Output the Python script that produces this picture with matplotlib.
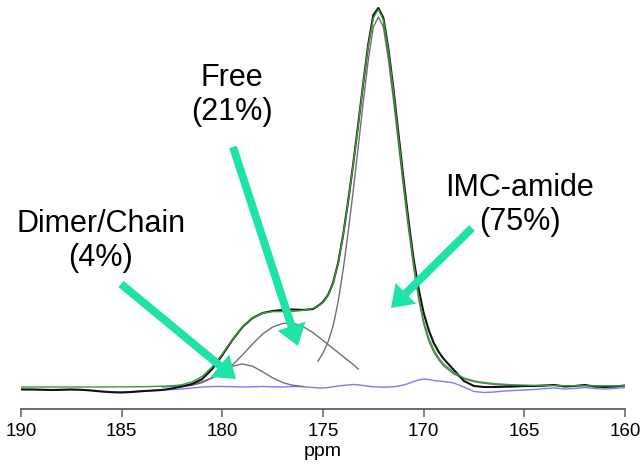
import matplotlib
matplotlib.use("Agg")
import matplotlib.pyplot as plt
from matplotlib.patches import FancyArrowPatch

plt.rcParams['font.family'] = ['Liberation Sans', 'DejaVu Sans']

# ---------------- data (intensity in arbitrary units) ----------------
ppm = [190.0, 189.5, 189.0, 188.5, 188.0, 187.5, 187.0, 186.5, 186.0, 185.5,
       185.0, 184.5, 184.0, 183.5, 183.0, 182.5, 182.0, 181.5, 181.0, 180.5,
       180.0, 179.5, 179.0, 178.5, 178.0, 177.5, 177.0, 176.5, 176.0, 175.5,
       175.25, 175.0, 174.75, 174.5, 174.25, 174.0, 173.75, 173.5, 173.25, 173.0,
       172.75, 172.5, 172.25, 172.0, 171.75, 171.5, 171.25, 171.0, 170.75, 170.5,
       170.25, 170.0, 169.75, 169.5, 169.25,
       169.0, 168.5, 168.0, 167.5, 167.0, 166.5, 166.0, 165.5, 165.0, 164.5,
       164.0, 163.5, 163.0, 162.5, 162.0, 161.5, 161.0, 160.5, 160.0]

experimental = [-0.5, -0.5, -0.7, -1.0, -0.8, -0.5, -0.8, -1.5, -2.5, -3.2,
                -3.5, -3.0, -2.2, -1.6, -1.0, 0.5, 2.5, 5.0, 10.0, 20.0,
                34.0, 49.0, 62.0, 71.0, 76.0, 78.0, 79.0, 79.5, 79.0, 80.0,
                83, 87, 94, 106, 126, 154, 188, 225, 265, 306,
                345, 374, 381, 371, 340, 300, 255, 210, 168, 130,
                100, 76, 59, 46, 37,
                30, 19, 8, 3, 2, 2, 2.3, 2.5, 3, 3,
                3.5, 4, 2.5, 3, 4, 2.5, 2, 2.5, 3.5]

fit_sum = [2.0, 2.0, 2.0, 2.0, 2.0, 2.0, 2.0, 2.0, 2.0, 2.1,
           2.1, 2.2, 2.3, 2.5, 2.8, 3.2, 4.3, 7.2, 12.6, 22.3,
           35.1, 49.4, 62.2, 71.3, 75.9, 77.4, 77.4, 77.6, 78.6, 80.7,
           82.5, 86.5, 93.5, 105.5, 125.5, 153.5, 187.5, 224.5, 264.5, 306.0,
           343.0, 371.0, 379.5, 369.0, 338.0, 297.0, 251.0, 206.0, 164.0, 126.0,
           93.0, 68.0, 51.0, 39.5, 31.0,
           25.0, 16.5, 11.0, 8.1, 6.5, 5.4, 4.7, 4.2, 3.9, 3.6,
           3.5, 3.4, 3.3, 3.3, 3.2, 3.2, 3.2, 3.2, 3.2]

residual = [-0.5, -0.5, -0.7, -1.0, -0.8, -0.5, -1.0, -1.5, -2.5, -3.0,
            -3.2, -2.5, -2.0, -1.5, -1.0, -0.5, 0.0, 1.0, 2.0, 2.5,
            2.5, 2.3, 2.0, 2.2, 2.5, 2.2, 2.0, 2.5, 2.3, 1.5,
            1.0, 1.0, 1.5, 2.2, 3.0, 3.5, 4.0, 4.5, 4.2, 3.5,
            2.8, 2.2, 2.0, 1.8, 2.0, 2.2, 3.0, 4.0, 5.5, 7.5,
            9.0, 10.0, 9.5, 8.5, 8.0,
            7.5, 6.0, 2.0, -2.5, -3.5, -3.0, -2.0, -1.5, -1.0, -0.5,
            0.5, 1.0, 0.0, 0.5, 1.5, 0.5, 0.0, 0.5, 1.5]

dimer_ppm = [182.5, 182.0, 181.5, 181.0, 180.5, 180.0, 179.5, 179.0, 178.5,
             178.0, 177.5, 177.0, 176.5, 176.0]
dimer_val = [2.1, 2.6, 3.7, 6.4, 11.1, 17.2, 22.8, 25.0, 22.8,
             17.2, 11.1, 6.4, 3.7, 2.6]

free_ppm = [183.0, 182.5, 182.0, 181.5, 181.0, 180.5, 180.0, 179.5, 179.0, 178.5,
            178.0, 177.5, 177.0, 176.5, 176.0, 175.5, 175.25, 175.0, 174.75,
            174.5, 174.25, 174.0, 173.75, 173.5, 173.25]
free_val = [2.0, 2.5, 3.3, 4.8, 7.3, 11.5, 17.0, 24.0, 34.0, 45.0,
            55.0, 62.0, 65.5, 66.0, 62.5, 56.5, 52.5, 48.5, 44.5,
            40.5, 36.5, 32.5, 28.5, 24.5, 20.0]

amide_ppm = [175.25, 175.0, 174.75, 174.5, 174.25, 174.0, 173.75, 173.5, 173.25, 173.0,
             172.75, 172.5, 172.25, 172.0, 171.75, 171.5, 171.25, 171.0, 170.75, 170.5,
             170.25, 170.0, 169.75, 169.5, 169.25, 169.0, 168.5, 168.0, 167.5, 167.0,
             166.5, 166.0, 165.5, 165.0, 164.5, 164.0]
amide_val = [28, 36, 47, 63, 87, 119, 157, 198, 242, 287,
             329, 362, 372, 362, 329, 289, 245, 201, 160, 122,
             90, 65, 48, 37, 29, 23.0, 15.0, 10.3, 7.3, 5.7,
             4.6, 4.0, 3.5, 3.2, 3.0, 2.8]

xticks = [190, 185, 180, 175, 170, 165, 160]
labels = ["Dimer/Chain\n(4%)", "Free\n(21%)", "IMC-amide\n(75%)"]

# ---------------- figure ----------------
W, H = 641, 468
fig = plt.figure(figsize=(W / 100, H / 100), dpi=100)
ax = fig.add_axes([21 / W, 59 / H, 604 / W, 409 / H])
ax.set_xlim(190, 160)
ax.set_ylim(-20, 389)

ax.plot(ppm, residual, color='#7b7bff', lw=1.0, zorder=1)
gray = '#707070'
ax.plot(dimer_ppm, dimer_val, color=gray, lw=1.0, zorder=2)
ax.plot(free_ppm, free_val, color=gray, lw=1.0, zorder=2)
ax.plot(amide_ppm, amide_val, color=gray, lw=1.0, zorder=2)
ax.plot(ppm, experimental, color='#111111', lw=1.5, zorder=3)
ax.plot(ppm, fit_sum, color='#3c9a3c', lw=1.0, zorder=4)

for s in ['left', 'right', 'top']:
    ax.spines[s].set_visible(False)
ax.spines['bottom'].set_color('#606060')
ax.spines['bottom'].set_linewidth(1.3)
ax.set_yticks([])
ax.set_xticks(xticks)
ax.set_xticklabels([str(t) for t in xticks])
ax.tick_params(axis='x', direction='out', length=6, width=1.1, color='#606060',
               labelsize=13.5, pad=4)
ax.set_xlabel('ppm', fontsize=14, labelpad=2)
ax.patch.set_alpha(0)

# ---------------- annotations ----------------
teal = '#1EE3A8'
def fx(px):
    return px / W
def fy(py):
    return 1 - py / H

fig.text(fx(101), fy(241), labels[0], ha='center', va='center', fontsize=22,
         linespacing=1.2)
fig.text(fx(232), fy(95), labels[1], ha='center', va='center', fontsize=22,
         linespacing=1.2)
fig.text(fx(520), fy(205), labels[2], ha='center', va='center', fontsize=22,
         linespacing=1.2)

arrows = [((121, 284), (236, 379)),
          ((233, 147), (298, 346)),
          ((472, 228), (391, 308))]
for (a, b) in arrows:
    p = FancyArrowPatch((fx(a[0]), fy(a[1])), (fx(b[0]), fy(b[1])),
                        transform=fig.transFigure,
                        arrowstyle='simple,head_length=15,head_width=21,tail_width=5.8',
                        mutation_scale=1, color=teal, lw=0,
                        shrinkA=0, shrinkB=0, zorder=10)
    fig.patches.append(p)

fig.savefig('out.png', dpi=100)
